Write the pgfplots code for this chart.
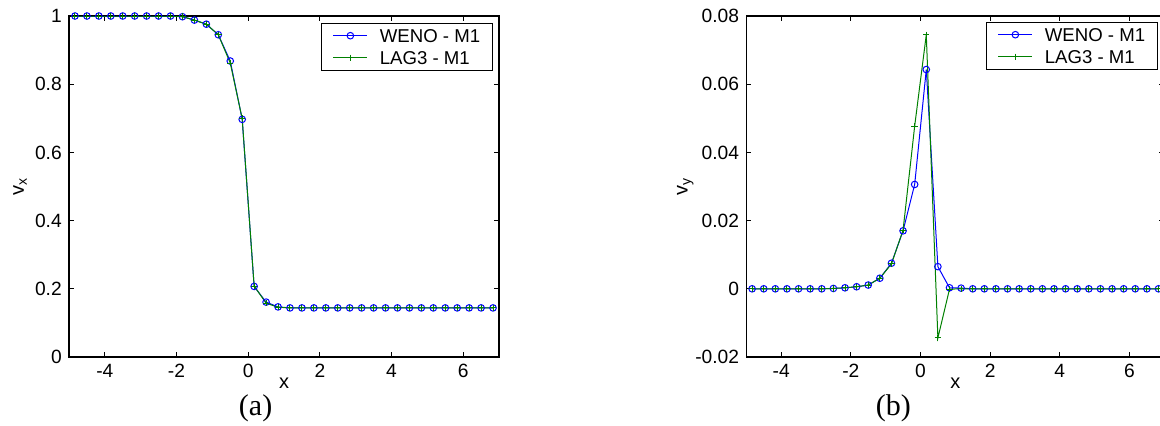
\documentclass[border=0pt]{standalone}
\usepackage{fontspec}
\setmainfont{Liberation Sans}
\newfontfamily\capfont{Liberation Serif}
\usepackage{pgfplots}
\usepackage{pgfplotstable}
\pgfplotsset{compat=1.18}

\definecolor{mblue}{rgb}{0,0,1}
\definecolor{mgreen}{rgb}{0,0.5,0}

% panel (a): v_x
\pgfplotstableread{
x        weno   lag3
-4.8333  1.000  1.000
-4.5     1.000  1.000
-4.1667  1.000  1.000
-3.8333  1.000  1.000
-3.5     1.000  1.000
-3.1667  1.000  1.000
-2.8333  1.000  1.000
-2.5     1.000  1.000
-2.1667  1.000  1.000
-1.8333  0.998  0.998
-1.5     0.988  0.988
-1.1667  0.976  0.976
-0.8333  0.945  0.945
-0.5     0.868  0.862
-0.1667  0.697  0.699
0.1667   0.207  0.208
0.5      0.161  0.158
0.8333   0.147  0.146
1.1667   0.144  0.144
1.5      0.144  0.144
1.8333   0.144  0.144
2.1667   0.144  0.144
2.5      0.144  0.144
2.8333   0.144  0.144
3.1667   0.144  0.144
3.5      0.144  0.144
3.8333   0.144  0.144
4.1667   0.144  0.144
4.5      0.144  0.144
4.8333   0.144  0.144
5.1667   0.144  0.144
5.5      0.144  0.144
5.8333   0.144  0.144
6.1667   0.144  0.144
6.5      0.144  0.144
6.8333   0.144  0.144
}\tabA

% panel (b): v_y
\pgfplotstableread{
x        weno     lag3
-4.8333  0.0      0.0
-4.5     0.0      0.0
-4.1667  0.0      0.0
-3.8333  0.0      0.0
-3.5     0.0      0.0
-3.1667  0.0      0.0
-2.8333  0.0      0.0
-2.5     0.0001   0.0001
-2.1667  0.0003   0.0003
-1.8333  0.0006   0.0006
-1.5     0.0011   0.0011
-1.1667  0.0031   0.0031
-0.8333  0.0075   0.0073
-0.5     0.0170   0.0172
-0.1667  0.0306   0.0477
0.1667   0.0643   0.0745
0.5      0.0065  -0.0144
0.8333   0.0003  -0.0001
1.1667   0.0002   0.0
1.5      0.0      0.0
1.8333   0.0      0.0
2.1667   0.0      0.0
2.5      0.0      0.0
2.8333   0.0      0.0
3.1667   0.0      0.0
3.5      0.0      0.0
3.8333   0.0      0.0
4.1667   0.0      0.0
4.5      0.0      0.0
4.8333   0.0      0.0
5.1667   0.0      0.0
5.5      0.0      0.0
5.8333   0.0      0.0
6.1667   0.0      0.0
6.5      0.0      0.0
6.8333   0.0      0.0
}\tabB

\pgfplotsset{
  mlab/.style={
    scale only axis,
    height=170.5pt,
    anchor=south west,
    line width=0.6pt,
    xmin=-5, xmax=7,
    xtick={-4,-2,0,2,4,6},
    xticklabels={-4,-2,0,2,4,6},
    tick align=inside,
    major tick length=2.5pt,
    major tick style={line width=0.5pt, black},
    ticklabel style={font=\fontsize{9.6}{11}\selectfont},
    label style={font=\fontsize{9.6}{11}\selectfont},
    every axis x label/.style={at={(axis description cs:0.5,-0.0762)}, anchor=center},
    xlabel={x},
    legend cell align=left,
    legend image code/.code={\path (-1.85pt,0pt);
      \draw[mark repeat=2,mark phase=2,##1] plot coordinates {(0pt,0pt) (8.5pt,0pt) (17pt,0pt)};},
    legend style={font=\fontsize{9.3}{11}\selectfont, draw=black, line width=0.5pt,
      inner xsep=4pt, inner ysep=0.8pt, column sep=4pt,
      nodes={inner xsep=2pt, inner ysep=2pt, text height=7pt, text depth=0pt},
      at={(1,1)}, anchor=north east},
  },
  weno/.style={color=mblue, line width=0.5pt, mark=o, mark size=1.65pt, mark options={line width=0.5pt}},
  lag3/.style={color=mgreen, line width=0.5pt, mark=+, mark size=1.6pt, mark options={line width=0.5pt}},
}

\begin{document}
\begin{tikzpicture}
  \begin{axis}[mlab,
      at={(34.5pt,34pt)},
      width=215pt,
      ymin=0, ymax=1,
      ytick={0,0.2,0.4,0.6,0.8,1},
      yticklabels={0,0.2,0.4,0.6,0.8,1},
      every axis y label/.style={at={(axis description cs:-0.114,0.5)}, rotate=90, anchor=center},
      ylabel={v\textsubscript{x}},
      legend style={xshift=-3.2pt, yshift=-3.3pt},
    ]
    \addplot[weno] table[x=x, y=weno] {\tabA};
    \addplot[lag3] table[x=x, y=lag3] {\tabA};
    \legend{WENO - M1, LAG3 - M1}
  \end{axis}

  \begin{axis}[mlab,
      at={(373.15pt,34pt)},
      width=209pt,
      ymin=-0.02, ymax=0.08,
      ytick={-0.02,0,0.02,0.04,0.06,0.08},
      yticklabels={-0.02,0,0.02,0.04,0.06,0.08},
      scaled y ticks=false,
      every axis y label/.style={at={(axis description cs:-0.146,0.5)}, rotate=90, anchor=center},
      ylabel={v\textsubscript{y}},
      legend style={xshift=-3.35pt, yshift=-2.8pt},
    ]
    \addplot[weno] table[x=x, y=weno] {\tabB};
    \addplot[lag3] table[x=x, y=lag3] {\tabB};
    \legend{WENO - M1, LAG3 - M1}
  \end{axis}

  \node[font=\capfont\fontsize{15}{18}\selectfont, anchor=base] at (127.8pt,5pt) {(a)};
  \node[font=\capfont\fontsize{15}{18}\selectfont, anchor=base] at (446.7pt,5pt) {(b)};

  \pgfresetboundingbox
  \useasboundingbox (0,0) rectangle (580pt,212.5pt);
\end{tikzpicture}
\end{document}
